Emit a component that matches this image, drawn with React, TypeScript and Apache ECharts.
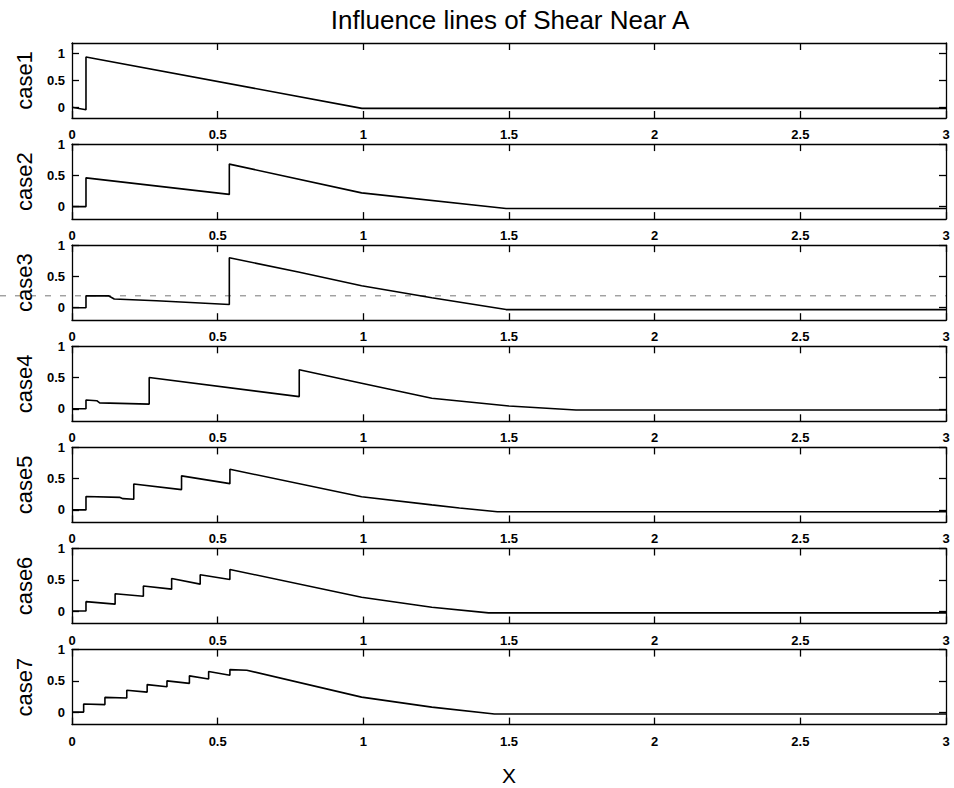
import React, { useEffect, useRef } from "react";
import * as echarts from "echarts";

// Influence lines of shear near support A for seven load cases (x = position along the beam)
const caseNames = ["case1", "case2", "case3", "case4", "case5", "case6", "case7"];

const case1X = [0, 0.048, 0.048, 0.995, 3];
const case1Y = [0, -0.045, 0.94, -0.02, -0.02];

const case2X = [0, 0.048, 0.048, 0.54, 0.54, 0.994, 1.49, 3];
const case2Y = [0, 0, 0.46, 0.195, 0.68, 0.22, -0.03, -0.03];

const case3X = [0, 0.048, 0.048, 0.125, 0.145, 0.29, 0.54, 0.54, 0.777, 0.994, 1.235, 1.49, 3];
const case3Y = [0, 0, 0.19, 0.19, 0.14, 0.11, 0.05, 0.8, 0.57, 0.35, 0.16, -0.03, -0.03];

const case4X = [0, 0.048, 0.048, 0.085, 0.095, 0.265, 0.265, 0.78, 0.78, 0.994, 1.235, 1.5, 1.73, 3];
const case4Y = [0, 0, 0.14, 0.13, 0.095, 0.075, 0.5, 0.195, 0.625, 0.41, 0.17, 0.045, -0.02, -0.02];

const case5X = [0, 0.048, 0.048, 0.165, 0.175, 0.212, 0.212, 0.376, 0.376, 0.542, 0.542, 0.994, 1.235, 1.33, 1.46, 3];
const case5Y = [0, 0, 0.215, 0.2, 0.18, 0.17, 0.415, 0.325, 0.545, 0.42, 0.65, 0.21, 0.08, 0.03, -0.03, -0.03];

const case6X = [0, 0.048, 0.048, 0.148, 0.148, 0.245, 0.245, 0.342, 0.342, 0.44, 0.44, 0.542, 0.542, 0.994, 1.235, 1.43, 3];
const case6Y = [0, 0, 0.15, 0.11, 0.275, 0.235, 0.4, 0.35, 0.52, 0.43, 0.58, 0.505, 0.665, 0.22, 0.06, -0.03, -0.03];

const case7X = [0, 0.04, 0.04, 0.113, 0.113, 0.188, 0.188, 0.258, 0.258, 0.326, 0.326, 0.403, 0.403, 0.469, 0.469, 0.542, 0.542, 0.6, 0.994, 1.235, 1.45, 3];
const case7Y = [0, 0, 0.13, 0.12, 0.235, 0.225, 0.35, 0.32, 0.44, 0.405, 0.5, 0.46, 0.58, 0.53, 0.65, 0.59, 0.68, 0.67, 0.24, 0.08, -0.03, -0.03];

const caseXs = [case1X, case2X, case3X, case4X, case5X, case6X, case7X];
const caseYs = [case1Y, case2Y, case3Y, case4Y, case5Y, case6Y, case7Y];

const yMins = [-0.2, -0.2, -0.2, -0.2, -0.2, -0.2, -0.2];
const yMaxs = [1.2, 1, 1, 1, 1, 1, 1];
const yTickValues = [0, 0.5, 1];

// faint dotted trace across the case3 panel
const case3TraceLevel = 0.19;

const FONT = "'Liberation Sans', Arial, Helvetica, sans-serif";

export default function App() {
  const ref = useRef<HTMLDivElement>(null);

  useEffect(() => {
    if (!ref.current) return;
    const chart = echarts.init(ref.current, undefined, { renderer: "svg" });

    const lineStyle = { color: "#000", width: 1.3 };
    const tickStyle = { color: "#000", width: 1.3 };
    const labelStyle = {
      color: "#000",
      fontSize: 13,
      fontWeight: "bold" as const,
      fontFamily: FONT,
    };

    const grids: any[] = [];
    const xAxes: any[] = [];
    const yAxes: any[] = [];
    const series: any[] = [];

    caseNames.forEach((name, i) => {
      grids.push({ left: 72, right: 8, top: 43 + i * 101.1, height: 75 });
      const last = i === caseNames.length - 1;
      xAxes.push({
        gridIndex: i,
        type: "value",
        position: "bottom",
        min: 0,
        max: 3,
        interval: 0.5,
        name: last ? "X" : "",
        nameLocation: "middle",
        nameGap: 40,
        nameTextStyle: { color: "#000", fontSize: 21, fontFamily: FONT },
        axisLine: { show: true, onZero: false, lineStyle },
        axisTick: { show: true, inside: true, length: 7, lineStyle: tickStyle },
        axisLabel: { ...labelStyle, margin: 10, showMinLabel: true, showMaxLabel: true },
        splitLine: { show: false },
      });
      xAxes.push({
        gridIndex: i,
        type: "value",
        position: "top",
        min: 0,
        max: 3,
        interval: 0.5,
        axisLine: { show: true, onZero: false, lineStyle },
        axisTick: { show: true, inside: true, length: 7, lineStyle: tickStyle },
        axisLabel: { show: false },
        splitLine: { show: false },
      });
      yAxes.push({
        gridIndex: i,
        type: "value",
        position: "left",
        min: yMins[i],
        max: yMaxs[i],
        name,
        nameLocation: "middle",
        nameGap: 37,
        nameTextStyle: { color: "#000", fontSize: 22, fontFamily: FONT },
        axisLine: { show: true, onZero: false, lineStyle },
        axisTick: { show: true, inside: true, length: 7, lineStyle: tickStyle, customValues: yTickValues },
        axisLabel: { ...labelStyle, margin: 7, customValues: yTickValues },
        splitLine: { show: false },
      });
      yAxes.push({
        gridIndex: i,
        type: "value",
        position: "right",
        min: yMins[i],
        max: yMaxs[i],
        axisLine: { show: true, onZero: false, lineStyle },
        axisTick: { show: true, inside: true, length: 7, lineStyle: tickStyle, customValues: yTickValues },
        axisLabel: { show: false },
        splitLine: { show: false },
      });
      series.push({
        name,
        type: "line",
        xAxisIndex: i * 2,
        yAxisIndex: i * 2,
        showSymbol: false,
        symbol: "none",
        lineStyle: { color: "#000", width: 1.6 },
        data: caseXs[i].map((x, k) => [x, caseYs[i][k]]),
      });
    });

    chart.setOption({
      animation: false,
      backgroundColor: "#fff",
      title: {
        text: "Influence lines of Shear Near A",
        left: 505,
        top: 2,
        textAlign: "center",
        textStyle: { color: "#000", fontSize: 26, fontWeight: "normal", fontFamily: FONT },
      },
      grid: grids,
      xAxis: xAxes,
      yAxis: yAxes,
      series,
    });

    const yPix = chart.convertToPixel({ yAxisIndex: 4 }, case3TraceLevel) as number;
    const xRight = chart.convertToPixel({ xAxisIndex: 4 }, 3) as number;
    chart.setOption({
      graphic: [
        {
          type: "line",
          silent: true,
          shape: { x1: 0, y1: yPix, x2: xRight, y2: yPix },
          style: { stroke: "#666", lineWidth: 0.9, lineDash: [6, 9] },
        },
      ],
    });

    return () => chart.dispose();
  }, []);

  return (
    <div
      ref={ref}
      style={{ position: "absolute", left: 0, top: 0, width: 954, height: 788, background: "#fff" }}
    />
  );
}
